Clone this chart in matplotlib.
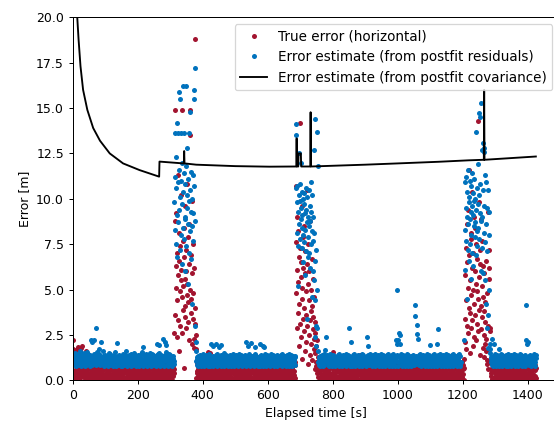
import numpy as np
import matplotlib
matplotlib.use("Agg")
import matplotlib.pyplot as plt

RED = "#A2142F"
BLUE = "#0072BD"


def decode(s):
    """Quiet-period samples: one base-36 character per second, in steps of 0.05 m."""
    return [int(c, 36) * 0.05 for c in s.replace(" ", "")]


# ---- true horizontal error -------------------------------------------------
true_q1 = decode(
    "7z3ka5vi2d 0x8f4ry1c6 k3w9e0hu5b 2g7ja4m0e8 5c1hb9f3k6"
    "0e8i2c5ja7 3h1d9g6b0k 4f2ai7c5e1 9b3hd0j6g2 8a5k1e4c7i"
    "2j0f6b9dh3 5a8ic2g4e0 7k1b5hd3f9 0c6ja2e8g4 1i5d9b3k7f"
    "6e0hc4a8j2 9g3fb1k5d7 0i6ec2h9a4 3b7jf0d5g1 8c2ke6a9h4"
    "5f1db8i3g0 7a4jc9e2k6 1h5bf0d8i3 6g2ae9c4j7 0k5d1hb8f3"
    "2i9e6c0ga4 8d3jb5f1k7 4h0ce9a2i6 7b5gd1f8j3 0e4kc9a6h2"
    "9d3bf7i0g5 a8c")
true_b1 = [2.6, 14.9, 8.8, 3.6, 6.3, 5.1, 9.2, 2.4, 7.0, 4.4,
           11.3, 5.8, 3.3, 6.6, 1.6, 8.1, 4.9, 7.4, 3.0, 5.5,
           10.2, 6.1, 2.6, 14.9, 4.6, 7.7, 3.9, 5.2, 8.4, 0.7,
           6.8, 4.1, 9.6, 5.6, 3.5, 7.2, 2.9, 6.0, 4.7, 10.8,
           5.3, 3.2, 7.9, 4.3, 6.4, 2.2, 8.6, 13.5, 14.9, 5.0,
           3.7, 6.9, 4.5, 9.9, 2.0, 5.9, 7.5, 3.4, 4.8, 1.8,
           6.2, 2.3, 4.0, 18.8, 3.1, 1.7, 2.5]
true_q2 = decode(
    "3j8a0g5d2k 6b1h9e4c7f 0i3ka8d5g2 7c9f1j4b6e 2h0dk5a8i3"
    "9e4gb1c7j0 5k2fa8h3d6 1b9ie4g0c7 8j3da6k2f5 0h7cb1e9g4"
    "6a2ki5d8f0 3g9bj1e7c4 k0h6a3f8d2 5i1ec9b4j7 2d8gh0k5a3"
    "7f4bi1c9e6 0j5ga8d2k3 4e9hc0b7f1 6k3ad5i8g2 9c0fj4e6b1"
    "3h8dk2a5g7 1b6ie0c9j4 8f2ha5k3d0 4g7cb9e1i6 0j3fa8d5k2"
    "5e1hc7b4g9 2k8ai0f6d3 7c4jb9e1h5 0g6dk2a8f4 3i5bc9e7j1"
    "6a0hk3")
true_b2 = [10.7, 4.8, 7.6, 2.9, 6.1, 9.0, 3.7, 5.4, 8.2, 1.9,
           6.8, 4.2, 7.3, 3.1, 14.2, 5.7, 2.4, 6.5, 9.6, 4.5,
           1.2, 5.1, 7.9, 3.4, 6.2, 2.7, 8.5, 4.0, 5.9, 1.6,
           7.1, 3.6, 4.9, 2.1, 10.5, 6.4, 3.0, 5.3, 0.9, 7.5,
           4.4, 2.5, 6.0, 3.3, 8.8, 1.4, 5.0, 3.8, 2.0, 6.7,
           4.1, 1.1, 2.8, 5.6, 3.5, 1.7, 4.6, 2.3, 0.6, 3.2,
           1.5, 2.6, 0.8, 1.9, 1.0, 0.4, 2.2, 0.7, 1.3, 0.5]
true_q3 = decode(
    "4a9f2k0d7h 1c6ib3g8e5 j0a4dk7f2h 9b5ec1i6g3 0k8ha2d5j7"
    "3f6bg9c0e4 i1k5da8h2j 7e0cg4b9f6 2a3hk8d1i5 c9g0je6b4f"
    "1d7ka3h5i0 8f2ce9g4b6 k1j7da0h3e 5i8cf2b9g6 0a4kd7e1j3"
    "h6b9fc2i5g 8d0ak4e7j1 3c6hb9f2i5 g0k8da3e7c 1j4bh6f9a2"
    "i5d0gc8k3e 7b1jf4a6h9 2e5ci0d8g3 k7b1fa4j6h 9c2ed5i0g8"
    "3a6kb1h4f7 0j9dc2e5i8 g1a6kh3b7f 4d0je9c2g5 i8b1fa6k3h"
    "7e0dc4j9g2 5i3ab8f1k6 h0d7ec2g9j 4a5bi1f8k3 6c0hd7e2g9"
    "j4a1bf5i8k 3c6hd0e9g2 7a4jb1f5i8 k0c3hd6e9g 2a5jb8f1i4"
    "7k0ch3d6e9 g2a5jb8f1i 4k7c0hd3e6 g9a2jb5f8i 1k4c7hd0e")
true_b3 = [1.2, 3.4, 5.8, 2.1, 7.3, 4.4, 1.7, 6.5, 3.0, 8.6,
           5.1, 2.6, 9.4, 4.0, 6.9, 11.6, 3.7, 5.5, 1.5, 7.8,
           4.7, 2.9, 8.1, 6.2, 3.3, 10.4, 5.0, 1.9, 7.0, 4.2,
           9.0, 2.4, 6.0, 3.6, 8.4, 5.3, 2.2, 7.5, 4.9, 3.1,
           6.7, 14.3, 4.5, 2.7, 9.8, 5.7, 3.9, 7.2, 1.4, 6.4,
           4.1, 8.9, 2.8, 5.2, 3.5, 7.7, 1.8, 4.6, 6.3, 2.5,
           3.8, 5.9, 1.3, 4.3, 2.0, 3.2, 6.6, 1.6, 2.3, 0.9,
           4.8, 1.1, 3.0, 0.6, 9.3, 7.2, 6.2, 5.6, 2.9, 2.7, 1.0]
true_q4 = decode(
    "5c8a1k3f0h 9d2gi6b4e7 j1c5ka8d0f 3h7bg2e9i6 4a0jd5c8k1"
    "f6h3b9e2g7 0i4ak8d1c5 j9f2h6b3e0 g7k4ai1d8c 5j0f3hb6e9"
    "2g8ka4d1i7 c0j5f3hb9e 6g2ka8d4i1 c7j0f5hb3e")

# isolated large true errors in the quiet periods
true_peak_t = [2, 17, 25, 30, 41, 415, 422, 800, 884]
true_peak_v = [2.2, 1.85, 1.8, 1.9, 1.6, 1.55, 1.5, 1.55, 1.4]

# ---- error estimate from postfit residuals --------------------------------
resid_q1 = decode(
    "mrhoslkuin pgjtmohskq lsiwnkpgro tjmhqulnsg kphrmvtjli"
    "nqgsomjrhl uikpntgmqj ohslrkvinp gmtjqhlosk iprnwgkmhj"
    "sloqhmkrgi nujpshtlqm korigjsnhp lvmqgtkirj hoslnpkmgq"
    "riglmtjphn soqkhwmigr lpjsnqhkot gmirlkphsj uonqgmlirh"
    "kpsgmrjiqh otlnvkgpsm irjhqlotkg spmnhiruqj lkgotmphsi"
    "nrlhmgpqks ijtoumhkrg lnqsjpihto mgrkslvnjh pqgimotkrl"
    "shjqpmkgon ril")
resid_b1 = [9.8, 11.2, 13.6, 8.3, 10.6, 7.5, 12.3, 9.1, 14.2, 6.8,
            10.9, 8.7, 13.6, 15.9, 9.4, 11.6, 7.2, 10.1, 15.5, 8.0,
            13.6, 11.0, 6.4, 9.7, 12.0, 8.4, 10.4, 16.2, 7.8, 11.4,
            13.6, 9.0, 6.0, 10.8, 8.9, 16.2, 11.8, 7.4, 9.5, 12.8,
            10.2, 5.3, 8.6, 11.1, 13.6, 9.9, 7.0, 10.5, 8.2, 14.8,
            11.5, 9.3, 6.7, 10.0, 8.5, 4.2, 11.3, 7.7, 9.2, 15.5,
            10.7, 16.0, 17.2, 8.8, 3.0, 2.1, 1.6]
resid_q2 = decode(
    "lqhnkrgjmo ipksgmlqhr njtgkoilps hmqjrgknlo tgipmhslqk"
    "jrngmoqhli skpgtmjrhn loqkigsmpj hrlnkugioq mpshjkrgln"
    "qimhospgkj lrntqhgmki osjplkrhgn qmitjolkhs pgrmnjqikh"
    "lsogkmprhj nqtilgkosm hrjpqnlgki mtshorjkpg lqinmhrgok"
    "sjlpqgkmih nrotkjgslm qhpirnklgo tjmhqskpgi rnlomkjhqs"
    "glpikrnmoh qjsgktlpin hmrojgqkls ipnhmgtrjk olqsgmkrph"
    "jnlqrh")
resid_b2 = [10.6, 14.1, 13.5, 9.8, 8.1, 10.7, 7.4, 9.3, 5.2, 10.2,
            8.6, 12.5, 9.9, 7.8, 10.8, 8.9, 12.0, 9.5, 7.3, 10.4,
            8.4, 9.1, 6.5, 10.0, 8.0, 9.7, 7.6, 10.3, 5.8, 9.2,
            8.3, 10.6, 7.1, 9.4, 8.7, 3.4, 10.1, 7.9, 9.0, 6.8,
            10.5, 8.5, 7.0, 9.6, 6.2, 8.8, 10.9, 7.5, 9.3, 4.6,
            8.2, 10.2, 6.0, 9.0, 7.7, 5.5, 12.7, 8.1, 6.6, 14.4,
            4.4, 2.4, 7.2, 3.0, 1.9, 5.0, 2.9, 13.7, 11.8, 1.6]
resid_q3 = decode(
    "kqmhrgoljn sipgkmqthl rjognkpsmi hlqgrtkjom pnigslhqrk"
    "mgjolpqhki rsntgmkjlo qhpigrsmkn ljhotqgpmi kslrnjhgqo"
    "pmkigslrhq tnjogkmplh risqgknjom lhptgriksq njmolhgkpr"
    "igsmqhlkto rjpngmiqhs lkogrtjpnm hiqskglorj mpnhtgkiqs"
    "lrojmhgpkn qsitlmgrhj okpqnslgim htrkjgoqpl nmishkgrjq"
    "olmpthgkin rsjqlogmhk pinrtsjglq mkohirgpjn lsqkmhtgoi"
    "rjnplkgmsq hoitrjmgkl pqnsohigkr mjltqpgnhs kiormjglph"
    "qnksitgmlo hjrpgqkmsn liohtjgrkp mqslnighok rpjtmgqlhs"
    "inkorgjmph lqstkgnoim hjrlpqgksn motjhigrk")
resid_b3 = [2.2, 8.3, 10.9, 6.1, 9.5, 11.2, 7.7, 9.0, 4.5, 10.4,
            8.6, 11.6, 7.2, 9.8, 6.6, 10.1, 8.9, 11.0, 7.5, 9.3,
            5.6, 10.7, 8.0, 9.6, 11.4, 7.0, 9.1, 10.3, 6.3, 8.5,
            9.9, 11.1, 7.9, 10.0, 8.7, 6.9, 13.7, 9.4, 10.6, 8.2,
            7.4, 11.9, 9.7, 8.4, 10.2, 14.7, 7.8, 14.5, 9.2, 10.8,
            6.0, 8.8, 15.3, 12.7, 9.0, 7.3, 13.1, 10.5, 5.9, 8.1,
            9.6, 12.8, 12.6, 7.6, 11.3, 5.5, 8.6, 10.9, 4.2, 7.1,
            2.9, 9.5, 3.6, 1.8, 10.5, 9.3, 8.0, 5.0, 2.0, 1.5, 1.7]
resid_q4 = decode(
    "nqkhslgrmo jipktgqmhl snroikgjpq mhltsgknoi rjqpmhgksl"
    "ongtiqrkmj hplsgnoqki mjrthglpsn kiqomgjhrl ptsnkgimqo"
    "hjrlpkgsnm qitogjmhrk lpsqngihko rmtjlqgkps")

# isolated large residual-based estimates in the quiet periods
resid_peak_t = [55, 60, 66, 72, 80, 88, 135, 217, 258, 265, 278, 283, 288,
                426, 432, 441, 450, 457,
                534, 540, 548, 560, 575, 584, 590,
                777, 779, 851, 856, 907, 910,
                996, 997, 998, 1000, 1004, 1006, 1008,
                1052, 1053, 1058, 1060, 1062,
                1099, 1121, 1123,
                1290, 1295, 1311,
                1394, 1396, 1398, 1400]
resid_peak_v = [2.2, 2.1, 2.2, 2.9, 1.75, 2.1, 2.05, 1.85, 2.0, 1.95, 2.3, 2.1, 1.95,
                2.0, 1.9, 2.0, 1.85, 1.95,
                2.1, 1.9, 2.05, 1.85, 2.0, 1.9, 1.85,
                1.65, 2.4, 2.9, 2.1, 2.4, 1.9,
                2.2, 5.0, 2.0, 2.2, 2.6, 2.5, 2.0,
                4.15, 3.55, 2.55, 3.05, 2.3,
                1.95, 2.0, 2.85,
                2.3, 2.0, 1.75,
                4.15, 2.2, 2.0, 2.1]

# segment start epochs [s]
seg_start = [0, 313, 380, 686, 756, 1205, 1286]

# ---- error estimate from postfit covariance -------------------------------
cov_t = [6, 10, 14, 18, 24, 32, 45, 63, 84, 114, 155, 206, 266, 267,
         340, 342, 343, 344, 380, 500, 605,
         688, 689, 690, 694, 695, 702, 703,
         731, 732, 733,
         800, 900, 1000, 1126, 1218,
         1265, 1266, 1267, 1425]
cov_v = [27.0, 22.5, 20.0, 18.8, 17.3, 16.0, 14.9, 13.9, 13.2, 12.5, 11.95, 11.58, 11.22, 12.05,
         11.95, 11.95, 12.63, 11.95, 11.88, 11.8, 11.77,
         11.78, 13.33, 11.78, 11.78, 12.5, 12.5, 11.78,
         11.78, 14.77, 11.78,
         11.82, 11.88, 11.95, 12.04, 12.12,
         12.15, 16.0, 12.15, 12.33]


def assemble(segments):
    t = np.concatenate([s + np.arange(len(v)) for s, v in zip(seg_start, segments)])
    y = np.concatenate([np.asarray(v, dtype=float) for v in segments])
    return t, y


def apply_peaks(t, y, pt, pv):
    for tp, vp in zip(pt, pv):
        y[t == tp] = vp


t_true, e_true = assemble([true_q1, true_b1, true_q2, true_b2, true_q3, true_b3, true_q4])
t_res, e_res = assemble([resid_q1, resid_b1, resid_q2, resid_b2, resid_q3, resid_b3, resid_q4])
apply_peaks(t_true, e_true, true_peak_t, true_peak_v)
apply_peaks(t_res, e_res, resid_peak_t, resid_peak_v)

dpi = 90
fig = plt.figure(figsize=(554 / dpi, 424 / dpi), dpi=dpi)
ax = fig.add_axes([72.7 / 554, 43.7 / 424, (559 - 72.7) / 554, 363 / 424])

ax.plot(t_true, e_true, "o", ms=4, mew=0, color=RED, label="True error (horizontal)")
ax.plot(t_res, e_res, "o", ms=4, mew=0, color=BLUE,
        label="Error estimate (from postfit residuals)")
ax.plot(cov_t, cov_v, "-", color="black", lw=1.5,
        label="Error estimate (from postfit covariance)")

ax.set_xlim(left=0)
ax.set_ylim(0, 20)
ax.set_xlabel("Elapsed time [s]")
ax.set_ylabel("Error [m]")
ax.legend(loc="upper right", fontsize=10.8)

fig.savefig("out.png", dpi=dpi)
